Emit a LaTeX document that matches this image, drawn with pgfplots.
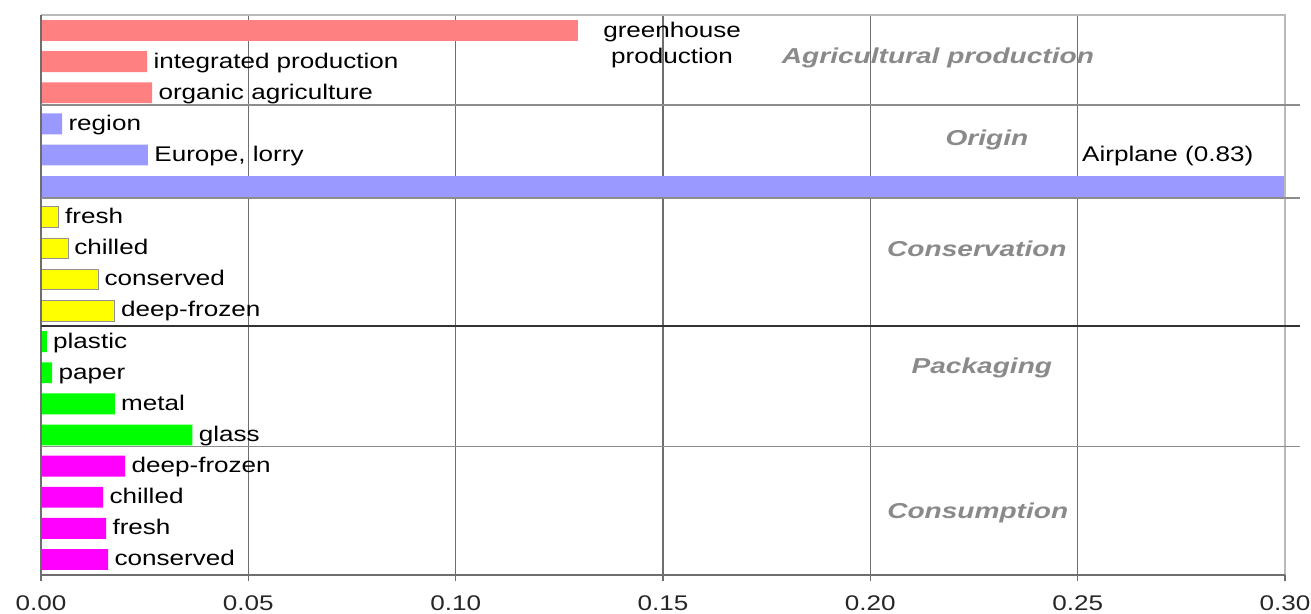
\documentclass[border=0pt]{standalone}
\usepackage{fontspec}
\setmainfont{Liberation Sans}
\newfontfamily\lab[FakeStretch=1.23]{Liberation Sans}
\newfontfamily\catf[FakeStretch=1.3]{Liberation Sans}
\usepackage{pgfplots}
\pgfplotsset{compat=1.18}
\definecolor{cred}{HTML}{FF8080}
\definecolor{cblue}{HTML}{9999FF}
\definecolor{cyel}{HTML}{FFFF00}
\definecolor{cgreen}{HTML}{00FF00}
\definecolor{cmag}{HTML}{FF00FF}
\definecolor{catgray}{HTML}{8A8A8A}
\definecolor{gridc}{HTML}{6E6E6E}
\definecolor{sepc}{HTML}{8C8C8C}
\pgfplotsset{
  hb/.style={xbar, bar width=0.67, bar shift=0pt},
  lbl/.style={nodes near coords, point meta=explicit symbolic,
    every node near coord/.append style={anchor=west, inner sep=0pt, xshift=3pt,
      text height=7.7pt, text depth=1.3pt,
      font=\lab\fontsize{10.6}{12}\selectfont, text=black}},
}
\begin{document}
\begin{tikzpicture}
\begin{axis}[
  scale only axis, width=622pt, height=280pt,
  xmin=0, xmax=0.30, ymin=0.5, ymax=18.5, y dir=reverse,
  xtick={0,0.05,0.1,0.15,0.2,0.25,0.3},
  ytick=\empty,
  xmajorgrids, major grid style={draw=gridc, line width=0.6pt},
  tick align=outside, xtick pos=left, major tick length=3pt,
  tick style={draw=gridc, line width=0.6pt},
  axis line style={draw=none},
  xticklabel style={font=\lab\fontsize{10.6}{12}\selectfont, text=black!85, yshift=-4pt,
    /pgf/number format/.cd, fixed, fixed zerofill, precision=2, assume math mode=true},
  clip mode=individual,
]
% Agricultural production
\addplot[hb, fill=cred, draw=none] coordinates {(0.1295,1)};
\addplot[hb, lbl, fill=cred, draw=none] coordinates {(0.0256,2) [integrated production] (0.0268,3) [organic agriculture]};
% Origin
\addplot[hb, lbl, fill=cblue, draw=none] coordinates {(0.0051,4) [region] (0.0258,5) [{Europe, lorry}]};
\addplot[hb, fill=cblue, draw=none] coordinates {(0.83,6)};
% Conservation
\addplot[hb, lbl, fill=cyel, draw=gray!85, line width=0.4pt] coordinates {(0.0043,7) [fresh] (0.0065,8) [chilled] (0.0138,9) [conserved] (0.0178,10) [deep-frozen]};
% Packaging
\addplot[hb, lbl, fill=cgreen, draw=none] coordinates {(0.0014,11) [plastic] (0.0027,12) [paper] (0.0178,13) [metal] (0.0365,14) [glass]};
% Consumption
\addplot[hb, lbl, fill=cmag, draw=none] coordinates {(0.0203,15) [deep-frozen] (0.0150,16) [chilled] (0.0157,17) [fresh] (0.0162,18) [conserved]};

% frame
\draw[white, line width=1.4pt] (axis cs:0.30,0.5) -- (axis cs:0.30,18.5);
\draw[gray!55, line width=0.6pt] (axis cs:0,0.5) -- (axis cs:0.30,0.5) -- (axis cs:0.30,18.5);
\draw[gridc, line width=0.7pt] (axis cs:0,0.5) -- (axis cs:0,18.5) -- (axis cs:0.30,18.5);
% separators
\draw[sepc, line width=0.6pt] (axis cs:0,3.39) -- (axis cs:0.3035,3.39);
\draw[sepc, line width=0.6pt] (axis cs:0,6.38) -- (axis cs:0.3035,6.38);
\draw[black!80, line width=0.7pt] (axis cs:0,10.5) -- (axis cs:0.3035,10.5);
\draw[sepc, line width=0.6pt] (axis cs:0,14.36) -- (axis cs:0.3035,14.36);
% labels
\node[align=center, font=\lab\fontsize{10.6}{13}\selectfont, inner sep=0pt] at (axis cs:0.1522,1.46) {greenhouse\\production};
\node[anchor=west, font=\lab\fontsize{10.6}{12}\selectfont, inner sep=0pt] at (axis cs:0.251,5.03) {Airplane (0.83)};
\begin{scope}[every node/.style={font=\catf\fontsize{10.8}{13}\selectfont\bfseries\itshape, text=catgray, inner sep=0pt}]
\node at (axis cs:0.2163,1.88) {Agricultural production};
\node at (axis cs:0.2281,4.52) {Origin};
\node at (axis cs:0.2257,8.02) {Conservation};
\node at (axis cs:0.2269,11.85) {Packaging};
\node at (axis cs:0.2259,16.51) {Consumption};
\end{scope}
\end{axis}
\pgfresetboundingbox
\path[use as bounding box] (-20.5pt,-19.5pt) rectangle (635pt,287.5pt);
\end{tikzpicture}
\end{document}
